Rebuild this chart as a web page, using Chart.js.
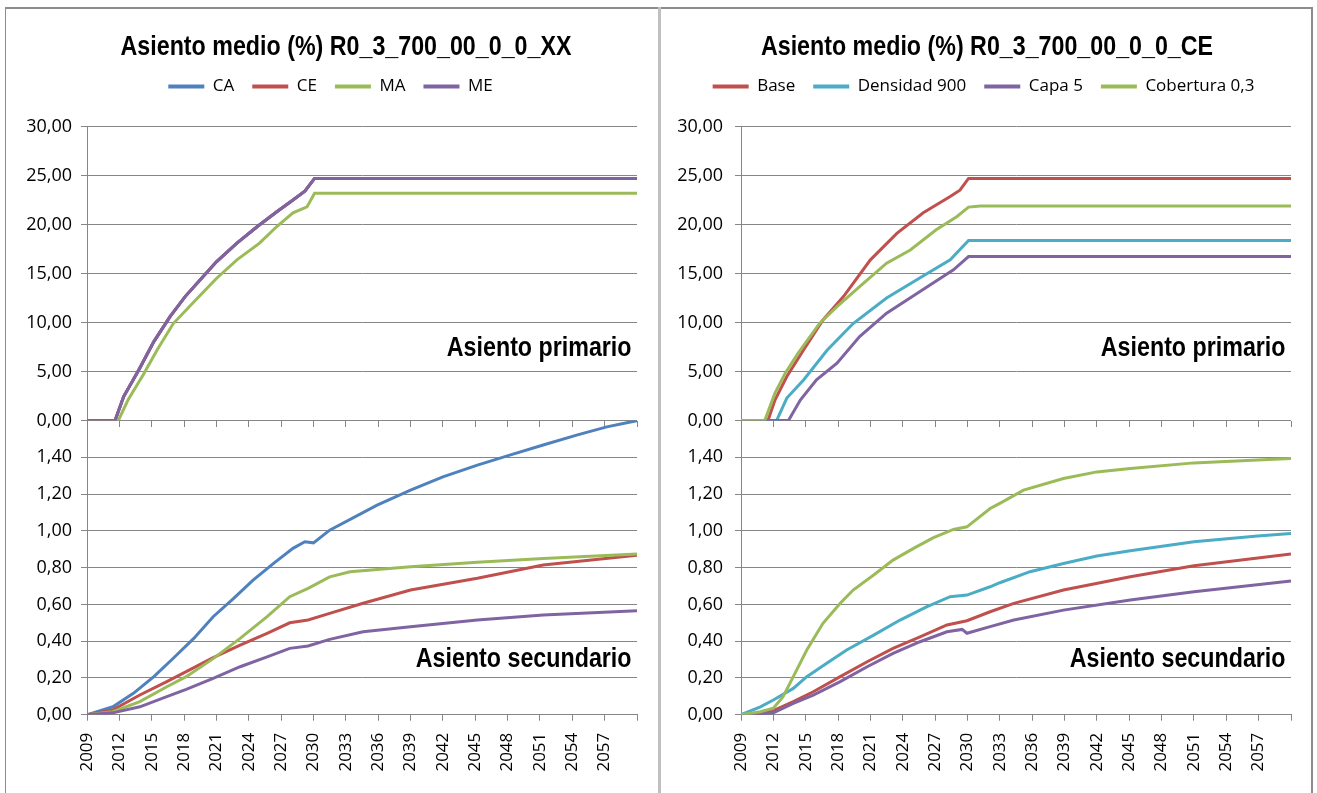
<!DOCTYPE html>
<html>
<head>
<meta charset="utf-8">
<script src="https://cdn.jsdelivr.net/npm/chart.js@4.4.1/dist/chart.umd.min.js"></script>
<style>
html,body{margin:0;padding:0;background:#fff;width:1317px;height:793px;overflow:hidden;}
#p1{position:absolute;left:5px;top:7px;width:653px;height:786px;border-top:2px solid #8c8c8c;border-left:1px solid #8c8c8c;box-sizing:border-box;}
#sep{position:absolute;left:658px;top:7px;width:3px;height:786px;background:#c0c0c0;}
#p2{position:absolute;left:661px;top:7px;width:652px;height:786px;border-top:2px solid #8c8c8c;border-right:2px solid #8c8c8c;box-sizing:border-box;}
canvas{position:absolute;left:0;top:0;}
</style>
</head>
<body>
<div id="p1"><canvas id="c1" width="652" height="784"></canvas></div>
<div id="sep"></div>
<div id="p2"><canvas id="c2" width="650" height="784"></canvas></div>
<script>
// ---------- axis ticks ----------
const yearTicks = [2009,2012,2015,2018,2021,2024,2027,2030,2033,2036,2039,2042,2045,2048,2051,2054,2057];
const firstYear = 2009;
const lastYear = 2060;
const priTickValues = [0,5,10,15,20,25,30];
const secTickValues = [0,0.2,0.4,0.6,0.8,1.0,1.2,1.4,1.6];

// ---------- left panel: R0_3_700_00_0_0_XX ----------
const leftTitle = 'Asiento medio (%) R0_3_700_00_0_0_XX';
const leftNames = ['CA','CE','MA','ME'];

// primary settlement (top)
const priYearsXX = [2009, 2011.6, 2012.4, 2013.8, 2015.2, 2016.7, 2018.1, 2019.5, 2021.0, 2022.9, 2024.8, 2026.6, 2028.1, 2029.2, 2030.1, 2060];
const priCA = [0, 0, 2.45, 5.17, 8.06, 10.6, 12.65, 14.36, 16.2, 18.1, 19.8, 21.3, 22.5, 23.4, 24.7, 24.7];
const priCE = [0, 0, 2.45, 5.17, 8.06, 10.6, 12.65, 14.36, 16.2, 18.1, 19.8, 21.3, 22.5, 23.4, 24.7, 24.7];
const priME = [0, 0, 2.45, 5.17, 8.06, 10.6, 12.65, 14.36, 16.2, 18.1, 19.8, 21.3, 22.5, 23.4, 24.7, 24.7];
const priYearsMA = [2009, 2011.9, 2012.8, 2014.2, 2015.5, 2017.0, 2018.9, 2021.0, 2022.9, 2025.0, 2026.6, 2028.1, 2029.4, 2030.1, 2060];
const priMA = [0, 0, 2.1, 4.66, 7.2, 9.9, 12.1, 14.5, 16.4, 18.1, 19.8, 21.2, 21.8, 23.2, 23.2];

// secondary settlement (bottom)
const secYearsCA = [2009, 2011.4, 2013.3, 2015.2, 2017.0, 2018.9, 2020.7, 2022.6, 2024.4, 2026.3, 2028.1, 2029.2, 2030.0, 2031.5, 2035.9, 2039.0, 2042.0, 2045.2, 2048.2, 2051.3, 2054.4, 2057.2, 2060];
const secCA = [0, 0.043, 0.116, 0.207, 0.307, 0.415, 0.533, 0.633, 0.732, 0.823, 0.905, 0.941, 0.935, 1.004, 1.14, 1.222, 1.294, 1.358, 1.412, 1.467, 1.521, 1.566, 1.60];
const secYearsCE = [2009, 2011.4, 2013.9, 2016.4, 2018.2, 2020.7, 2023.2, 2025.7, 2027.8, 2029.5, 2031.5, 2034.6, 2039.0, 2045.2, 2051.3, 2060];
const secCE = [0, 0.026, 0.107, 0.18, 0.234, 0.31, 0.379, 0.443, 0.50, 0.515, 0.551, 0.606, 0.678, 0.742, 0.814, 0.868];
const secYearsMA = [2009, 2011.4, 2013.9, 2016.4, 2018.2, 2020.7, 2023.2, 2025.7, 2027.8, 2029.5, 2031.5, 2033.4, 2039.0, 2045.2, 2051.3, 2060];
const secMA = [0, 0.016, 0.071, 0.152, 0.207, 0.305, 0.415, 0.533, 0.642, 0.687, 0.75, 0.778, 0.805, 0.829, 0.85, 0.874];
const secYearsME = [2009, 2011.4, 2013.9, 2016.4, 2018.2, 2020.7, 2023.2, 2025.7, 2027.8, 2029.5, 2031.5, 2034.6, 2039.0, 2045.2, 2051.3, 2060];
const secME = [0, 0.01, 0.043, 0.098, 0.138, 0.198, 0.261, 0.315, 0.361, 0.374, 0.41, 0.451, 0.479, 0.515, 0.542, 0.566];

// ---------- right panel: R0_3_700_00_0_0_CE ----------
const rightTitle = 'Asiento medio (%) R0_3_700_00_0_0_CE';
const rightNames = ['Base','Densidad 900','Capa 5','Cobertura 0,3'];

const priYearsBase = [2009, 2011.5, 2012.15, 2013.25, 2014.8, 2016.6, 2018.5, 2021.0, 2023.45, 2025.9, 2028.4, 2029.3, 2030.1, 2060];
const priBase = [0, 0, 2.1, 4.5, 7.2, 10.27, 12.65, 16.4, 19.1, 21.2, 22.86, 23.5, 24.7, 24.7];
const priYearsDens = [2009, 2012.3, 2013.25, 2014.8, 2017.0, 2019.4, 2022.5, 2025.3, 2028.4, 2030.1, 2060];
const priDens = [0, 0, 2.3, 4.15, 7.2, 9.9, 12.5, 14.36, 16.4, 18.37, 18.37];
const priYearsCapa = [2009, 2013.4, 2014.5, 2016.0, 2017.9, 2020.0, 2022.5, 2025.6, 2028.7, 2030.1, 2060];
const priCapa = [0, 0, 2.1, 4.15, 5.86, 8.57, 10.96, 13.16, 15.38, 16.73, 16.73];
const priYearsCob = [2009, 2011.2, 2012.15, 2013.1, 2014.3, 2016.3, 2017.9, 2020.0, 2022.5, 2024.7, 2027.1, 2029.0, 2030.1, 2031.2, 2060];
const priCob = [0, 0, 2.8, 4.84, 6.88, 9.94, 11.63, 13.67, 16.06, 17.4, 19.46, 20.8, 21.78, 21.9, 21.9];

const secYearsBase = [2009, 2010.8, 2012.0, 2013.85, 2015.7, 2018.2, 2020.7, 2023.1, 2025.6, 2028.1, 2029.95, 2032.1, 2034.3, 2038.9, 2045.1, 2051.0, 2060];
const secBase = [0, 0.007, 0.022, 0.071, 0.125, 0.207, 0.288, 0.361, 0.424, 0.488, 0.511, 0.56, 0.606, 0.678, 0.75, 0.81, 0.874];
const secYearsDens = [2009, 2010.8, 2012.0, 2013.85, 2015.1, 2016.95, 2018.8, 2021.3, 2023.75, 2026.2, 2028.4, 2029.95, 2032.1, 2033.0, 2035.8, 2038.9, 2042.0, 2045.1, 2051.0, 2056.9, 2060];
const secDens = [0, 0.043, 0.08, 0.143, 0.207, 0.28, 0.352, 0.433, 0.515, 0.587, 0.642, 0.651, 0.696, 0.718, 0.778, 0.823, 0.863, 0.892, 0.941, 0.972, 0.986];
const secYearsCapa = [2009, 2010.8, 2012.0, 2013.85, 2015.7, 2018.2, 2020.7, 2023.1, 2025.6, 2028.1, 2029.5, 2029.95, 2032.1, 2034.3, 2038.9, 2045.1, 2051.0, 2060];
const secCapa = [0, 0.004, 0.011, 0.062, 0.107, 0.18, 0.261, 0.334, 0.397, 0.451, 0.464, 0.443, 0.479, 0.515, 0.569, 0.624, 0.669, 0.727];
const secYearsCob = [2009, 2010.8, 2012.0, 2012.9, 2013.85, 2015.1, 2016.6, 2018.2, 2019.4, 2021.3, 2023.1, 2025.0, 2026.85, 2028.7, 2029.95, 2032.1, 2033.0, 2035.2, 2038.9, 2042.0, 2045.1, 2051.0, 2056.9, 2060];
const secCob = [0, 0.016, 0.035, 0.098, 0.207, 0.352, 0.497, 0.606, 0.678, 0.76, 0.841, 0.905, 0.963, 1.008, 1.022, 1.122, 1.15, 1.222, 1.285, 1.321, 1.34, 1.37, 1.385, 1.394];

// ---------- styling ----------
const C_BLUE = '#4F81BD', C_RED = '#C0504D', C_GREEN = '#9BBB59', C_PURPLE = '#8064A2', C_AQUA = '#4BACC6';
const GRID = '#868686';
const BOLD_FONT = "bold 28px 'Liberation Sans', Arial, sans-serif";
const TEXT_FAMILY = "'Open Sans', 'Noto Sans', sans-serif";

function fmt2(v){ return v.toFixed(2).replace('.', ','); }
function pts(xs, ys){ return xs.map((x, i) => ({x: x, y: ys[i]})); }

function narrowText(ctx, text, x, y, align, sx) {
  ctx.save();
  ctx.font = BOLD_FONT;
  ctx.fillStyle = '#000';
  ctx.textAlign = align;
  ctx.textBaseline = 'alphabetic';
  ctx.translate(x, y);
  ctx.scale(sx, 1);
  ctx.fillText(text, 0, 0);
  ctx.restore();
}

// panel title + zone labels ("Asiento primario" / "Asiento secundario")
const panelText = {
  id: 'panelText',
  afterDraw(chart, args, o) {
    const ctx = chart.ctx, area = chart.chartArea;
    narrowText(ctx, o.title, o.titleX, o.titleY, 'center', o.scaleX);
    o.items.forEach(it => {
      narrowText(ctx, it.text, area.right - o.inset, chart.scales[it.axis].getPixelForValue(it.value), 'right', o.scaleX);
    });
  }
};

function build(canvasId, cfg) {
  const n = cfg.names.length;
  const datasets = [];
  cfg.names.forEach((name, i) => {
    datasets.push({label: name, data: pts(cfg.pri[i][0], cfg.pri[i][1]), xAxisID: 'x', yAxisID: 'yPri',
      borderColor: cfg.colors[i], backgroundColor: cfg.colors[i], order: n - i});
  });
  cfg.names.forEach((name, i) => {
    datasets.push({label: name, data: pts(cfg.sec[i][0], cfg.sec[i][1]), xAxisID: 'x', yAxisID: 'ySec',
      borderColor: cfg.colors[i], backgroundColor: cfg.colors[i], order: n - i});
  });
  const xTickValues = yearTicks.concat([lastYear]);
  const setXTicks = s => { s.ticks = xTickValues.map(v => ({value: v})); };
  const tickFont = {family: TEXT_FAMILY, size: 18};
  return new Chart(document.getElementById(canvasId), {
    type: 'line',
    data: {datasets: datasets},
    plugins: [panelText],
    options: {
      responsive: false,
      animation: false,
      layout: {padding: {left: cfg.padLeft, right: cfg.padRight, top: 51, bottom: 8.3}},
      elements: {point: {radius: 0, hoverRadius: 0}, line: {borderWidth: 3, tension: 0}},
      plugins: {
        tooltip: {enabled: false},
        title: {display: false},
        legend: {display: true, position: 'top',
          labels: {boxWidth: 36, boxHeight: 4, padding: 18, color: '#000',
            font: {family: TEXT_FAMILY, size: 17},
            generateLabels: chart => Chart.defaults.plugins.legend.labels.generateLabels(chart).map(l => Object.assign(l, {lineWidth: 0})),
            filter: item => item.datasetIndex < n,
            sort: (a, b) => a.datasetIndex - b.datasetIndex}},
        panelText: {title: cfg.title, titleX: cfg.titleX, titleY: 46, scaleX: 0.83, inset: 5.5, items: [
          {text: 'Asiento primario', axis: 'yPri', value: 6.6},
          {text: 'Asiento secundario', axis: 'ySec', value: 0.261}]}
      },
      scales: {
        x: {type: 'linear', axis: 'x', position: 'bottom', min: firstYear, max: lastYear,
          afterBuildTicks: setXTicks,
          ticks: {autoSkip: false, minRotation: 90, maxRotation: 90, padding: 12, color: '#000',
            font: {family: TEXT_FAMILY, size: 17},
            callback: v => yearTicks.includes(v) ? String(v) : ''},
          grid: {display: true, drawOnChartArea: false, drawTicks: true, tickLength: 6, color: GRID},
          border: {display: true, color: GRID},
          afterFit: s => { s.height = 70; s.paddingLeft = 0; s.paddingRight = 0; }},
        xMid: {type: 'linear', axis: 'x', position: {yPri: 0}, min: firstYear, max: lastYear,
          afterBuildTicks: setXTicks,
          ticks: {display: false},
          grid: {display: true, drawOnChartArea: false, drawTicks: true, tickLength: 6, color: GRID},
          border: {display: false},
          afterFit: s => { s.paddingLeft = 0; s.paddingRight = 0; }},
        xSpacer: {type: 'linear', axis: 'x', position: 'top', min: 0, max: 1,
          ticks: {display: false}, grid: {display: false}, border: {display: false},
          afterFit: s => { s.height = 21.5; s.paddingLeft = 0; s.paddingRight = 0; }},
        ySec: {type: 'linear', axis: 'y', position: 'left', stack: 'v', stackWeight: 1, min: 0, max: 1.6,
          afterBuildTicks: s => { s.ticks = secTickValues.map(v => ({value: v})); },
          ticks: {autoSkip: false, padding: cfg.tickPad, color: '#000', font: tickFont,
            callback: v => v > 1.59 ? '' : fmt2(v)},
          grid: {color: GRID, tickLength: 6},
          border: {color: GRID},
          afterFit: s => { s.width = cfg.yWidth; }},
        yPri: {type: 'linear', axis: 'y', position: 'left', stack: 'v', stackWeight: 1, min: 0, max: 30,
          afterBuildTicks: s => { s.ticks = priTickValues.map(v => ({value: v})); },
          ticks: {autoSkip: false, padding: cfg.tickPad, color: '#000', font: tickFont, callback: v => fmt2(v)},
          grid: {color: GRID, tickLength: 6},
          border: {color: GRID},
          afterFit: s => { s.width = cfg.yWidth; }}
      }
    }
  });
}

build('c1', {
  title: leftTitle, names: leftNames,
  colors: [C_BLUE, C_RED, C_GREEN, C_PURPLE],
  pri: [[priYearsXX, priCA], [priYearsXX, priCE], [priYearsMA, priMA], [priYearsXX, priME]],
  sec: [[secYearsCA, secCA], [secYearsCE, secCE], [secYearsMA, secMA], [secYearsME, secME]],
  padLeft: 18, padRight: 21, yWidth: 63, tickPad: 9, titleX: 340
});
build('c2', {
  title: rightTitle, names: rightNames,
  colors: [C_RED, C_AQUA, C_PURPLE, C_GREEN],
  pri: [[priYearsBase, priBase], [priYearsDens, priDens], [priYearsCapa, priCapa], [priYearsCob, priCob]],
  sec: [[secYearsBase, secBase], [secYearsDens, secDens], [secYearsCapa, secCapa], [secYearsCob, secCob]],
  padLeft: 15, padRight: 20, yWidth: 65, tickPad: 12, titleX: 326
});
</script>
</body>
</html>
